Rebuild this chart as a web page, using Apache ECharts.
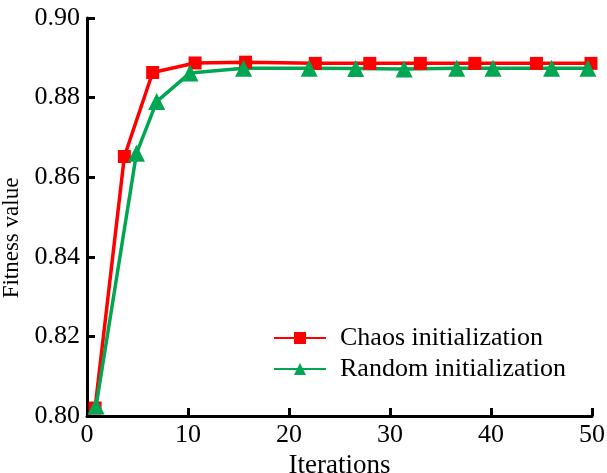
<!DOCTYPE html>
<html>
<head>
<meta charset="utf-8">
<script src="https://cdn.jsdelivr.net/npm/echarts@6/dist/echarts.min.js"></script>
<style>
html,body{margin:0;padding:0;background:#fff;}
#chart{width:607px;height:473px;}
</style>
</head>
<body>
<div id="chart"></div>
<script>
var seriesNames = ['Chaos initialization', 'Random initialization'];
var chaosX = [0.8, 3.7, 6.5, 10.7, 15.7, 22.6, 28.0, 33.0, 38.4, 44.5, 49.9];
var chaosY = [0.8020, 0.8652, 0.8863, 0.8887, 0.8889, 0.8886, 0.8886, 0.8886, 0.8886, 0.8886, 0.8886];
var randomX = [0.9, 4.9, 6.9, 10.2, 15.5, 22.0, 26.6, 31.4, 36.6, 40.2, 46.0, 49.6];
var randomY = [0.8025, 0.8660, 0.8790, 0.8862, 0.8874, 0.8874, 0.8873, 0.8872, 0.8874, 0.8874, 0.8874, 0.8874];
var xTicks = {min: 0, max: 50, interval: 10};
var yTicks = {min: 0.80, max: 0.90, interval: 0.02};

function pairs(xs, ys) { return xs.map(function (x, i) { return [x, ys[i]]; }); }

var font = '"Liberation Serif", "Times New Roman", serif';
var chart = echarts.init(document.getElementById('chart'), null, {renderer: 'canvas'});
chart.setOption({
  backgroundColor: '#fff',
  animation: false,
  grid: {left: 87, right: 15, top: 18, bottom: 57, containLabel: false, outerBoundsMode: 'none'},
  legend: {
    orient: 'vertical',
    left: 273,
    top: 325,
    padding: 0,
    itemWidth: 52,
    itemHeight: 15,
    itemGap: 5,
    align: 'left',
    textStyle: {fontFamily: font, fontSize: 26, color: '#000', padding: [0, 0, 0, 9]},
    data: seriesNames
  },
  xAxis: {
    type: 'value',
    min: xTicks.min, max: xTicks.max, interval: xTicks.interval,
    name: 'Iterations',
    nameLocation: 'middle',
    nameGap: 24,
    nameTextStyle: {fontFamily: font, fontSize: 27, color: '#000'},
    axisLine: {show: true, lineStyle: {color: '#000', width: 3}},
    axisTick: {show: true, inside: true, length: 8, lineStyle: {color: '#000', width: 3}},
    axisLabel: {fontFamily: font, fontSize: 26, color: '#000', margin: 6},
    splitLine: {show: false}
  },
  yAxis: {
    type: 'value',
    min: yTicks.min, max: yTicks.max, interval: yTicks.interval,
    name: 'Fitness value',
    nameLocation: 'middle',
    nameGap: 60,
    nameTextStyle: {fontFamily: font, fontSize: 23, color: '#000', padding: [0, 42, 0, 0]},
    axisLine: {show: true, lineStyle: {color: '#000', width: 3}},
    axisTick: {show: true, inside: true, length: 8, lineStyle: {color: '#000', width: 3}},
    axisLabel: {fontFamily: font, fontSize: 26, color: '#000', margin: 7,
      formatter: function (v) { return v.toFixed(2); }},
    splitLine: {show: false}
  },
  series: [
    {
      name: seriesNames[0],
      type: 'line',
      data: pairs(chaosX, chaosY),
      symbol: 'rect',
      symbolSize: 13,
      color: '#FF0000',
      lineStyle: {color: '#FF0000', width: 3.5},
      itemStyle: {color: '#FF0000'}
    },
    {
      name: seriesNames[1],
      type: 'line',
      data: pairs(randomX, randomY),
      symbol: 'triangle',
      symbolSize: 17,
      color: '#00A651',
      lineStyle: {color: '#00A651', width: 3.5},
      itemStyle: {color: '#00A651'}
    }
  ]
});
</script>
</body>
</html>
